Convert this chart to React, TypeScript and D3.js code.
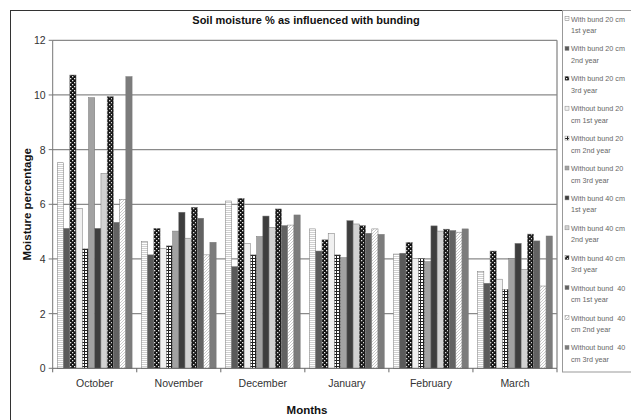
import React from "react";
import { scaleBand, scaleLinear } from "d3";

const months = ["October", "November", "December", "January", "February", "March"];

const seriesNames = [
  ["With bund 20 cm", "1st year"],
  ["With bund 20 cm", "2nd year"],
  ["With bund 20 cm", "3rd year"],
  ["Without bund 20", "cm 1st year"],
  ["Without bund 20", "cm 2nd year"],
  ["Without bund 20", "cm 3rd year"],
  ["With bund 40 cm", "1st year"],
  ["With bund 40 cm", "2nd year"],
  ["With bund 40 cm", "3rd year"],
  ["Without bund \u00a040", "cm 1st year"],
  ["Without bund \u00a040", "cm 2nd year"],
  ["Without bund \u00a040", "cm 3rd year"],
];

// one array per series, values by month
const withBund20y1 = [7.52, 4.63, 6.12, 5.1, 4.18, 3.54];
const withBund20y2 = [5.12, 4.15, 3.72, 4.29, 4.21, 3.11];
const withBund20y3 = [10.73, 5.12, 6.22, 4.7, 4.61, 4.29];
const withoutBund20y1 = [5.85, 4.39, 4.57, 4.94, 4.02, 3.26];
const withoutBund20y2 = [4.37, 4.48, 4.15, 4.15, 4.02, 2.89];
const withoutBund20y3 = [9.9, 5.02, 4.82, 4.05, 3.9, 4.02];
const withBund40y1 = [5.12, 5.71, 5.57, 5.4, 5.21, 4.57];
const withBund40y2 = [7.13, 4.76, 5.16, 5.28, 5.02, 3.62];
const withBund40y3 = [9.94, 5.89, 5.83, 5.22, 5.09, 4.91];
const withoutBund40y1 = [5.34, 5.49, 5.22, 4.94, 5.04, 4.66];
const withoutBund40y2 = [6.18, 4.15, 5.24, 5.1, 4.98, 3.01];
const withoutBund40y3 = [10.67, 4.61, 5.61, 4.9, 5.1, 4.84];

const yTicks = [0, 2, 4, 6, 8, 10, 12];

const seriesValues = [
  withBund20y1, withBund20y2, withBund20y3,
  withoutBund20y1, withoutBund20y2, withoutBund20y3,
  withBund40y1, withBund40y2, withBund40y3,
  withoutBund40y1, withoutBund40y2, withoutBund40y3,
];

// fills for each series (grayscale excel-like patterns)
const fills = [
  "url(#hstripe)", "#5a5a5a", "url(#blackcheck)",
  "#f0f0f0", "url(#whitegrid)", "#a2a2a2",
  "#3e3e3e", "#d2d2d2", "url(#blackcheck2)",
  "#626262", "url(#diag)", "#7c7c7c",
];

const font = "'Liberation Sans', Arial, sans-serif";

export default function App() {
  const left = 52.7, right = 557, top = 40.3, bottom = 368.3;

  const x = scaleBand<string>().domain(months).range([left, right]).padding(0);
  const xInner = scaleBand<number>()
    .domain(seriesNames.map((_, i) => i))
    .range([0, x.bandwidth()])
    .paddingInner(0)
    .paddingOuter(0.75);
  const y = scaleLinear().domain([0, 12]).range([bottom, top]);

  return (
    <svg width={631} height={420} style={{ position: "absolute", left: 0, top: 0, background: "#fff" }}>
      <defs>
        <pattern id="hstripe" width="4" height="2" patternUnits="userSpaceOnUse">
          <rect width="4" height="2" fill="#ffffff" />
          <rect width="4" height="1" fill="#cfcfcf" />
        </pattern>
        <pattern id="blackcheck" width="4" height="4" patternUnits="userSpaceOnUse">
          <rect width="4" height="4" fill="#111" />
          <rect x="0" y="0" width="1.3" height="1.3" fill="#eee" />
          <rect x="2" y="2" width="1.3" height="1.3" fill="#eee" />
        </pattern>
        <pattern id="blackcheck2" width="4" height="4" patternUnits="userSpaceOnUse">
          <rect width="4" height="4" fill="#1a1a1a" />
          <rect x="1" y="0" width="1.3" height="1.3" fill="#ddd" />
          <rect x="3" y="2" width="1.3" height="1.3" fill="#ddd" />
        </pattern>
        <pattern id="whitegrid" width="3" height="3" patternUnits="userSpaceOnUse">
          <rect width="3" height="3" fill="#fff" />
          <rect width="3" height="1" fill="#222" />
          <rect width="1" height="3" fill="#222" />
        </pattern>
        <pattern id="diag" width="3" height="3" patternUnits="userSpaceOnUse">
          <rect width="3" height="3" fill="#fff" />
          <path d="M0,3 L3,0" stroke="#bbb" strokeWidth="0.8" />
        </pattern>
      </defs>

      {/* outer chart border */}
      <rect x={10.5} y={10.5} width={640} height={430} fill="none" stroke="#333" strokeWidth={1} />

      <text x={306} y={24} textAnchor="middle" fontFamily={font} fontSize={11} fontWeight="bold" fill="#111">
        Soil moisture % as influenced with bunding
      </text>

      {/* gridlines */}
      {yTicks.filter((t) => t > 0).map((t) => (
        <line key={t} x1={left} x2={right} y1={y(t)} y2={y(t)} stroke="#8a8a8a" strokeWidth={1.3} />
      ))}
      <line x1={right} x2={right} y1={top} y2={bottom} stroke="#8a8a8a" strokeWidth={1.3} />

      {/* bars */}
      {months.map((m, mi) => (
        <g key={m}>
          {seriesValues.map((vals, si) => (
            <rect
              key={si}
              x={(x(m) as number) + (xInner(si) as number)}
              y={y(vals[mi])}
              width={xInner.bandwidth()}
              height={bottom - y(vals[mi])}
              fill={fills[si]}
              stroke="#777"
              strokeWidth={0.5}
            />
          ))}
        </g>
      ))}

      {/* y axis */}
      <line x1={left} x2={left} y1={top} y2={bottom} stroke="#777" strokeWidth={1} />
      {yTicks.map((t) => (
        <g key={t}>
          <line x1={left - 4} x2={left} y1={y(t)} y2={y(t)} stroke="#777" />
          <text x={left - 7} y={y(t) + 4} textAnchor="end" fontFamily={font} fontSize={10.5} fill="#333">
            {t}
          </text>
        </g>
      ))}
      <text
        transform={`translate(31,${(top + bottom) / 2}) rotate(-90)`}
        textAnchor="middle"
        fontFamily={font}
        fontSize={11.5}
        fontWeight="bold"
        fill="#111"
      >
        Moisture percentage
      </text>

      {/* x axis */}
      <line x1={left} x2={right} y1={bottom} y2={bottom} stroke="#666" strokeWidth={1} />
      {months.map((m) => (
        <line key={m} x1={x(m)} x2={x(m)} y1={bottom} y2={bottom + 4} stroke="#666" />
      ))}
      <line x1={right} x2={right} y1={bottom} y2={bottom + 4} stroke="#666" />
      {months.map((m) => (
        <text
          key={m}
          x={(x(m) as number) + x.bandwidth() / 2}
          y={387}
          textAnchor="middle"
          fontFamily={font}
          fontSize={10.5}
          fill="#333"
        >
          {m}
        </text>
      ))}
      <text x={307} y={414} textAnchor="middle" fontFamily={font} fontSize={11.5} fontWeight="bold" fill="#111">
        Months
      </text>

      {/* legend */}
      <rect x={562.5} y={10.5} width={80} height={361.5} fill="#fff" stroke="#999" strokeWidth={1} />
      {seriesNames.map((lines, i) => {
        const ly = 19 + i * 29.9;
        return (
          <g key={i}>
            <rect x={565} y={ly - 2.5} width={4} height={4} fill={fills[i]} stroke="#888" strokeWidth={0.5} />
            <text x={571} y={ly + 2.5} fontFamily={font} fontSize={7.2} fill="#666">
              {lines[0]}
            </text>
            <text x={571} y={ly + 14} fontFamily={font} fontSize={7.2} fill="#666">
              {lines[1]}
            </text>
          </g>
        );
      })}
    </svg>
  );
}
